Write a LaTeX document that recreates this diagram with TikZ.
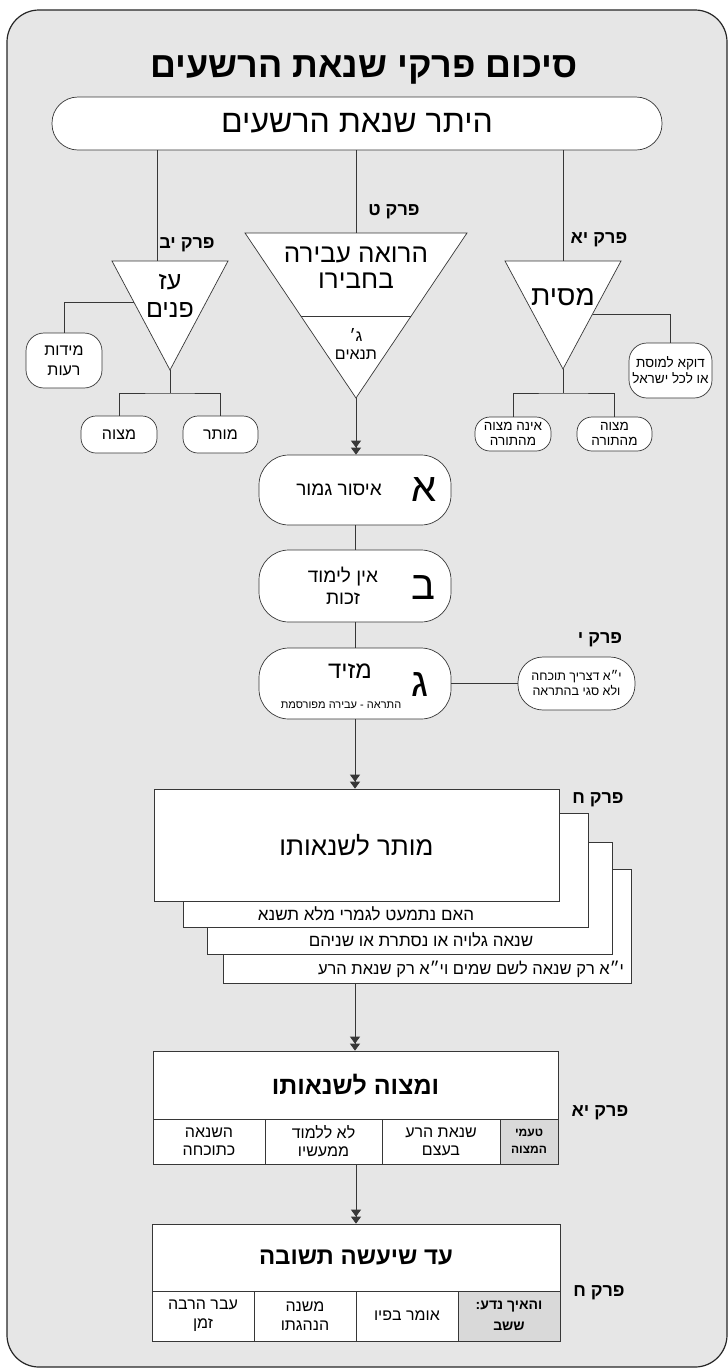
\documentclass[tikz,border=0pt]{standalone}
\usepackage{fontspec}
\setmainfont[Script=Hebrew]{Liberation Sans}
\TeXXeTstate=1
\usetikzlibrary{arrows.meta, positioning, calc}
\definecolor{framegray}{RGB}{230,230,230}
\definecolor{cellgray}{RGB}{217,217,217}
\definecolor{linegray}{RGB}{55,55,55}
\newcommand{\heb}[1]{\beginR#1\endR}
\newcommand{\fsz}[2]{\fontsize{#1}{#2}\selectfont}
\tikzset{
  txt/.style={inner sep=0pt, align=center},
  pill/.style={draw=linegray, fill=white, line width=0.7pt, rounded corners=#1, inner sep=0pt, align=center},
  pill/.default=15pt,
  cell/.style={draw=linegray, fill=white, line width=0.7pt, inner sep=0pt, align=center},
  perek/.style={txt, font=\bfseries\fsz{18}{20}},
  tri/.style={draw=linegray, fill=white, line width=0.7pt, line join=miter},
  conn/.style={draw=linegray, line width=0.8pt},
}
\tikzstyle{arrow} = [conn, -{Triangle[length=7pt,width=10pt,sep=0pt]Triangle[length=7pt,width=10pt]}]

\begin{document}
\begin{tikzpicture}[x=1pt, y=-1pt]
\useasboundingbox (0,0) rectangle (728,1369);
\draw[fill=framegray, draw=black!85, line width=1.2pt, rounded corners=32pt] (7,10) rectangle (727,1367);

\node[txt, font=\bfseries\fsz{36}{38}] (title) at (364,70) {\heb{סיכום פרקי שנאת הרשעים}};
\node[pill=26pt, minimum width=610pt, minimum height=53pt, font=\fsz{32}{33}] (heter) at (357,123.5) {\heb{היתר שנאת הרשעים}};

% triangles
\coordinate (azL) at (112,261); \coordinate (azR) at (228,261); \coordinate (azTip) at (170,370);
\coordinate (roL) at (245,233); \coordinate (roR) at (467,233); \coordinate (roTip) at (356,398);
\coordinate (meL) at (505,261); \coordinate (meR) at (621,261); \coordinate (meTip) at (563,369);
\coordinate (azTop) at (157,261);
\coordinate (roTop) at (356,233);
\coordinate (meTop) at (563,261);
\draw[conn] (heter.south -| azTop) -- (azTop);
\draw[conn] (heter.south -| roTop) -- (roTop);
\draw[conn] (heter.south -| meTop) -- (meTop);
\draw[tri] (azL) -- (azR) -- (azTip) -- cycle;
\draw[tri] (roL) -- (roR) -- (roTip) -- cycle;
\draw[tri] ($(roL)!0.503!(roTip)$) -- ($(roR)!0.503!(roTip)$);
\draw[tri] (meL) -- (meR) -- (meTip) -- cycle;

\node[perek] (pyb) at (187,245) {\heb{פרק יב}};
\node[perek] (pt) at (394,212) {\heb{פרק ט}};
\node[perek] (pya) at (599,240) {\heb{פרק יא}};

\node[txt, font=\fsz{25}{28}] (azpanim) at (170,296) {\heb{עז}\\\heb{פנים}};
\node[txt, font=\fsz{26}{26}] (roeh) at (356,267.5) {\heb{הרואה עבירה}\\\heb{בחבירו}};
\node[txt, font=\fsz{16}{18}] (tnaim) at (356,344) {\heb{ג׳}\\\heb{תנאים}};
\node[txt, font=\fsz{28}{28}] (mesit) at (563,297) {\heb{מסית}};

% left branch
\node[pill=18pt, minimum width=76pt, minimum height=55pt, font=\fsz{16}{20}] (midot) at (64,360.5) {\heb{מידות}\\\heb{רעות}};
\node[pill=15pt, minimum width=76pt, minimum height=37pt, font=\fsz{16}{16}] (azMitzva) at (119,434.5) {\heb{מצוה}};
\node[pill=15pt, minimum width=75pt, minimum height=37pt, font=\fsz{16}{16}] (azMutar) at (220.5,434.5) {\heb{מותר}};
\coordinate (azSide) at (134,302);
\coordinate (azFork) at (170,393);
\draw[conn] (azSide) -| (midot.north);
\draw[conn] (azTip) -- (azFork);
\draw[conn] (azMitzva.north) |- (azFork) -| (azMutar.north);

% right branch
\node[pill=18pt, minimum width=83pt, minimum height=55pt, font=\fsz{13.5}{16}] (davka) at (670.5,370.5) {\heb{דוקא למוסת}\\\heb{או לכל ישראל}};
\node[pill=15pt, minimum width=76pt, minimum height=34pt, font=\fsz{13.5}{15}] (einah) at (513,434) {\heb{אינה מצוה}\\\heb{מהתורה}};
\node[pill=15pt, minimum width=75pt, minimum height=34pt, font=\fsz{13.5}{15}] (meTorah) at (614.5,434) {\heb{מצוה}\\\heb{מהתורה}};
\coordinate (meSide) at (592.5,314);
\coordinate (meFork) at (563,393);
\draw[conn] (meSide) -| (davka.north);
\draw[conn] (meTip) -- (meFork);
\draw[conn] (einah.north) |- (meFork) -| (meTorah.north);

% A B G
\node[pill=30pt, minimum width=192pt, minimum height=70pt] (alef) at (355,490) {};
\node[pill=30pt, minimum width=192pt, minimum height=72pt] (bet) at (355,586) {};
\node[pill=30pt, minimum width=192pt, minimum height=71pt] (gimel) at (355,683.5) {};
\node[txt, font=\fsz{40}{40}] (alefL) at (424,490) {\heb{א}};
\node[txt, font=\fsz{19}{20}] (alefT) at (339,490) {\heb{איסור גמור}};
\node[txt, font=\fsz{40}{40}] (betL) at (423,588) {\heb{ב}};
\node[txt, font=\fsz{19}{22}] (betT) at (343,586) {\heb{אין לימוד}\\\heb{זכות}};
\node[txt, font=\fsz{40}{40}] (gimelL) at (420,685) {\heb{ג}};
\node[txt, font=\fsz{24}{24}] (gimelT) at (350,671) {\heb{מזיד}};
\node[txt, font=\fsz{11}{12}] (gimelS) at (341,705) {\heb{התראה - עבירה מפורסמת}};
\draw[arrow] (roTip) -- (roTip |- alef.north);
\draw[conn] (alef) -- (bet);
\draw[conn] (bet) -- (gimel);

\node[pill=25pt, minimum width=117pt, minimum height=53pt, font=\fsz{12.5}{15}] (tochacha) at (576.5,683.5) {\heb{י״א דצריך תוכחה}\\\heb{ולא סגי בהתראה}};
\node[perek] (py) at (600,640) {\heb{פרק י}};
\draw[conn] (gimel.east) -- (tochacha.west);

% stacked boxes
\node[cell, minimum width=408pt, minimum height=114pt] (layerC) at (427,926) {};
\node[cell, minimum width=405pt, minimum height=112pt] (layerB) at (409.5,898) {};
\node[cell, minimum width=405pt, minimum height=114pt] (layerA) at (385.5,870) {};
\node[cell, minimum width=405pt, minimum height=112pt, font=\fsz{26}{28}] (mutar) at (356.5,845) {\heb{מותר לשנאותו}};
\node[txt, font=\fsz{17}{18}] (layerAT) at (366,914) {\heb{האם נתמעט לגמרי מלא תשנא}};
\node[txt, font=\fsz{17}{18}] (layerBT) at (421,940) {\heb{שנאה גלויה או נסתרת או שניהם}};
\node[txt, font=\fsz{16.5}{18}] (layerCT) at (471,969) {\heb{י״א רק שנאה לשם שמים וי״א רק שנאת הרע}};
\node[perek] (pch) at (598,800) {\heb{פרק ח}};
\draw[arrow] (gimel.south) -- (gimel.south |- mutar.north);

% mitzva table
\node[cell, minimum width=405pt, minimum height=68pt, font=\bfseries\fsz{25}{27}] (mitzva) at (355.5,1085) {\heb{ומצוה לשנאותו}};
\node[cell, minimum width=112pt, minimum height=45pt, font=\fsz{16}{18}] (mA) at (209,1141.5) {\heb{השנאה}\\\heb{כתוכחה}};
\node[cell, minimum width=117pt, minimum height=45pt, font=\fsz{16}{18}] (mB) at (323.5,1141.5) {\heb{לא ללמוד}\\\heb{ממעשיו}};
\node[cell, minimum width=118pt, minimum height=45pt, font=\fsz{16}{18}] (mC) at (441,1141.5) {\heb{שנאת הרע}\\\heb{בעצם}};
\node[cell, fill=cellgray, minimum width=58pt, minimum height=45pt, font=\bfseries\fsz{12}{17}] (mD) at (529,1141.5) {\heb{טעמי}\\\heb{המצוה}};
\node[perek] (pya2) at (600,1113) {\heb{פרק יא}};
\draw[arrow] (gimel.south |- layerC.south) -- (gimel.south |- mitzva.north);

% teshuva table
\node[cell, minimum width=408pt, minimum height=67pt, font=\bfseries\fsz{24}{26}] (teshuva) at (356,1257.5) {\heb{עד שיעשה תשובה}};
\node[cell, minimum width=102pt, minimum height=50pt, font=\fsz{16}{19}] (tA) at (203,1316) {\heb{עבר הרבה}\\\heb{זמן}};
\node[cell, minimum width=102pt, minimum height=50pt, font=\fsz{16}{19}] (tB) at (305,1316) {\heb{משנה}\\\heb{הנהגתו}};
\node[cell, minimum width=102pt, minimum height=50pt, font=\fsz{16}{19}] (tC) at (407,1316) {\heb{אומר בפיו}};
\node[cell, fill=cellgray, minimum width=102pt, minimum height=50pt, font=\bfseries\fsz{14}{21}] (tD) at (509,1316) {\heb{והאיך נדע:}\\\heb{ששב}};
\node[perek] (pch2) at (599,1293) {\heb{פרק ח}};
\draw[arrow] (teshuva.north |- mB.south) -- (teshuva.north);
\end{tikzpicture}
\end{document}
